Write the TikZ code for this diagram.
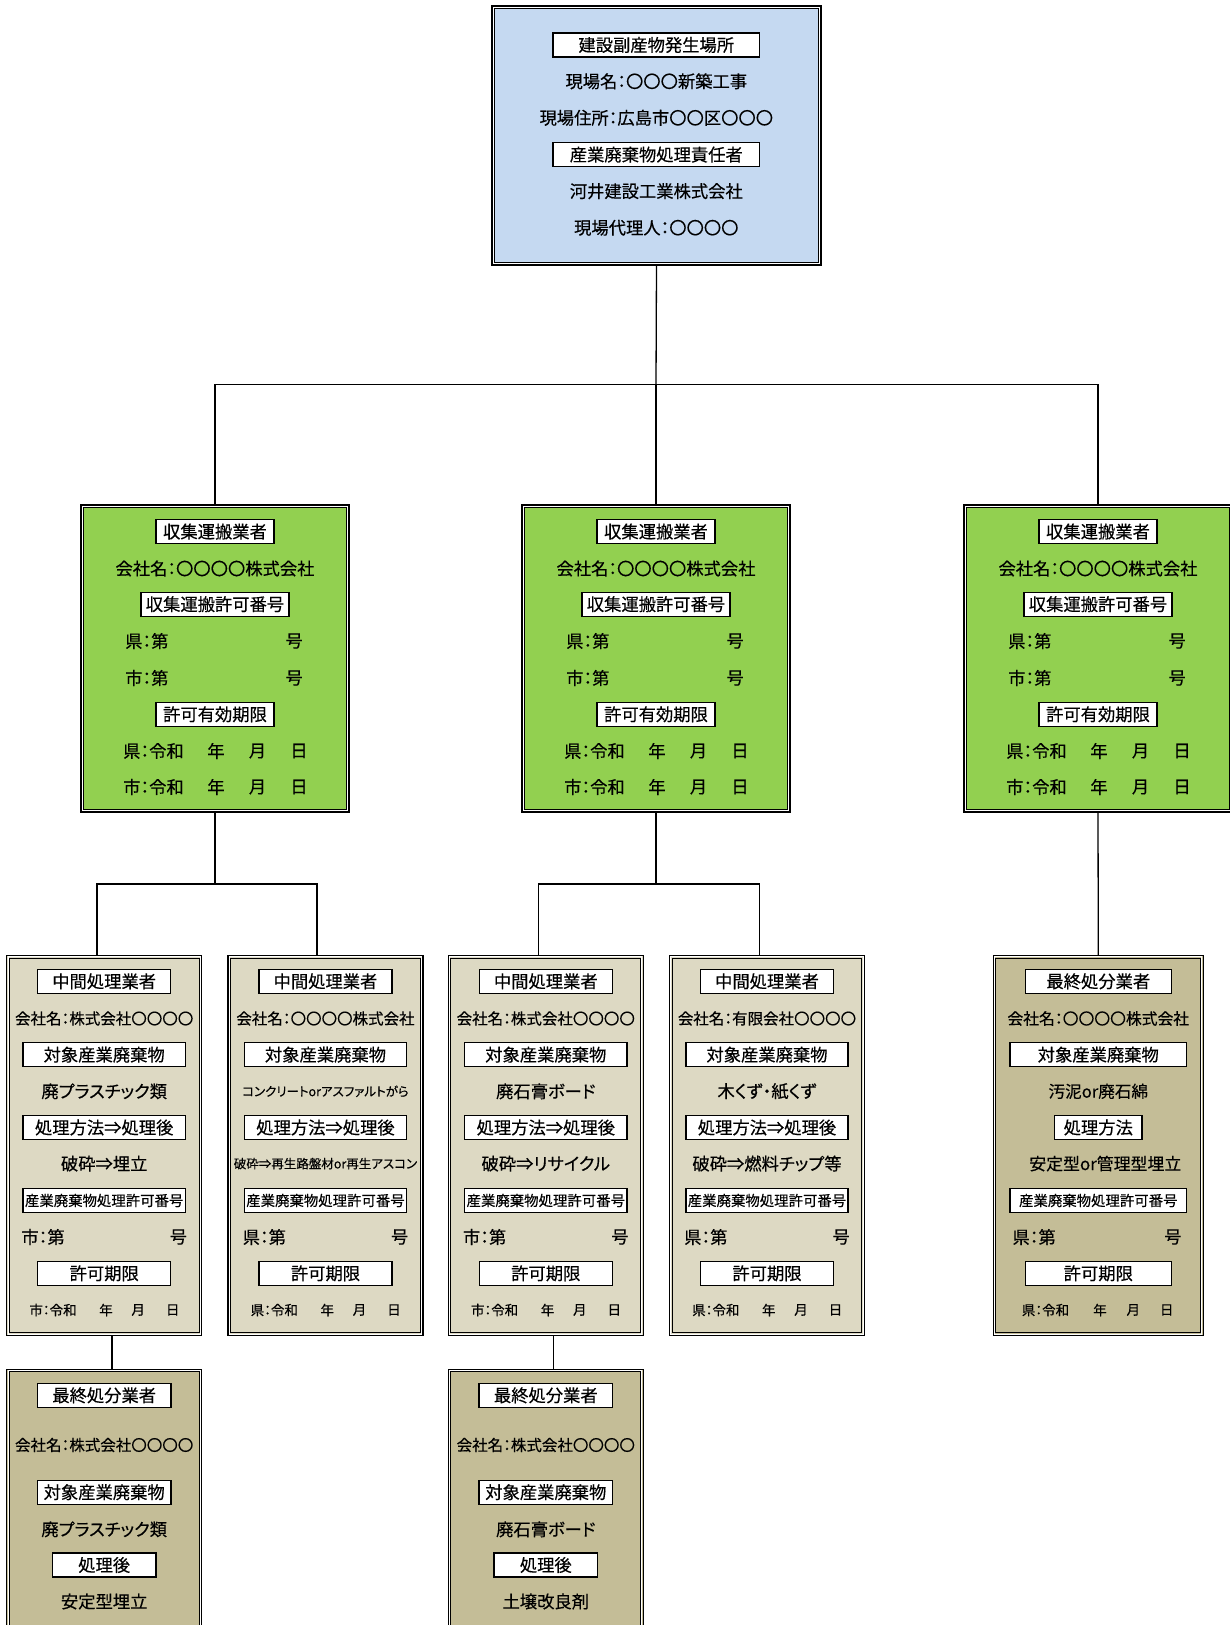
\documentclass[tikz,border=0pt]{standalone}
\usepackage{fontspec}
\setmainfont{Noto Sans CJK JP}[RawFeature=+palt,FakeBold=0.35]
\definecolor{blueC}{HTML}{C5D9F1}
\definecolor{greenC}{HTML}{92D050}
\definecolor{tanL}{HTML}{DDD9C3}
\definecolor{tanD}{HTML}{C4BD97}
\newcommand\fs[1]{\fontsize{#1}{#1}\selectfont}
\tikzset{
 bigbox/.style={rectangle, draw=black, line width=1.1pt, inner sep=0pt, outer sep=0pt},
 lab/.style={rectangle, draw=black, fill=white, line width=1.4pt, minimum height=24pt, inner sep=0pt, font=\fs{17.3}},
 txt/.style={inner sep=0pt, font=\fs{17.3}},
 conn/.style={draw=black, line width=1.3pt},
 innerframe/.style={draw=black, line width=0.9pt},
 gapframe/.style={draw=white, line width=1pt},
}
\newcommand\frameit[1]{%
 \draw[gapframe] ([shift={(1.35pt,-1.35pt)}]#1.north west) rectangle ([shift={(-1.35pt,1.35pt)}]#1.south east);
 \draw[innerframe] ([shift={(2.6pt,-2.6pt)}]#1.north west) rectangle ([shift={(-2.6pt,2.6pt)}]#1.south east);}
\newcommand\greenbox[2]{%
 \node[bigbox,fill=greenC,minimum width=268pt,minimum height=307pt] (#1) at (#2,658.5) {};
 \frameit{#1}
 \node[lab,minimum width=118pt] (#1a) at (#2,531.6) {収集運搬業者};
 \node[txt] (#1b) at (#2,568.5) {会社名：〇〇〇〇株式会社};
 \node[lab,minimum width=148pt] (#1c) at (#2,604.2) {収集運搬許可番号};
 \node[txt,anchor=west] (#1d) at ({#2-90},641) {県：第};
 \node[txt,anchor=east] (#1e) at ({#2+88},641) {号};
 \node[txt,anchor=west] (#1f) at ({#2-90},678) {市：第};
 \node[txt,anchor=east] (#1g) at ({#2+88},678) {号};
 \node[lab,minimum width=118pt] (#1h) at (#2,714.3) {許可有効期限};
 \node[txt,anchor=west] (#1i) at ({#2-92},751) {県：令和};
 \node[txt] (#1j) at ({#2+1},751) {年};
 \node[txt] (#1k) at ({#2+42.5},751) {月};
 \node[txt] (#1l) at ({#2+84},751) {日};
 \node[txt,anchor=west] (#1m) at ({#2-92},787) {市：令和};
 \node[txt] (#1n) at ({#2+1},787) {年};
 \node[txt] (#1o) at ({#2+42.5},787) {月};
 \node[txt] (#1p) at ({#2+84},787) {日};
}
\newcommand\midbox[6]{%
 \node[bigbox,fill=tanL,minimum width=195pt,minimum height=380pt] (#1) at (#2,1145.5) {};
 \frameit{#1}
 \node[lab,minimum width=133pt] (#1a) at (#2,981.3) {中間処理業者};
 \node[txt,font=\fs{15.5}] (#1b) at (#2,1018.5) {#3};
 \node[lab,minimum width=162.3pt] (#1c) at (#2,1054.7) {対象産業廃棄物};
 \node[txt] (#1d) at (#2,1091.3) {#4};
 \node[lab,minimum width=162.3pt] (#1e) at (#2,1127.5) {処理方法⇒処理後};
 \node[txt] (#1f) at (#2,1163.6) {#5};
 \node[lab,minimum width=162.3pt,font=\fs{14.4}] (#1g) at (#2,1200.5) {産業廃棄物処理許可番号};
 \node[txt,anchor=west] (#1h) at ({#2-83},1237) {#6：第};
 \node[txt,anchor=east] (#1i) at ({#2+83},1237) {号};
 \node[lab,minimum width=133pt] (#1j) at (#2,1273.3) {許可期限};
 \node[txt,font=\fs{13.5},anchor=west] (#1k) at ({#2-75},1310) {#6：令和};
 \node[txt,font=\fs{13.5}] (#1l) at ({#2+1.8},1310) {年};
 \node[txt,font=\fs{13.5}] (#1m) at ({#2+34},1310) {月};
 \node[txt,font=\fs{13.5}] (#1n) at ({#2+68.5},1310) {日};
}
\newcommand\finbox[4]{%
 \node[bigbox,fill=tanD,minimum width=195pt,minimum height=291pt] (#1) at (#2,1514.8) {};
 \frameit{#1}
 \node[lab,minimum width=133.4pt] (#1a) at (#2,1395.3) {最終処分業者};
 \node[txt,font=\fs{15.5}] (#1b) at (#2,1445) {会社名：株式会社〇〇〇〇};
 \node[lab,minimum width=133.4pt] (#1c) at (#2,1492.2) {対象産業廃棄物};
 \node[txt] (#1d) at (#2,1529.3) {#3};
 \node[lab,minimum width=103.4pt] (#1e) at (#2,1565) {処理後};
 \node[txt] (#1f) at (#2,1601.5) {#4};
}
\begin{document}
\begin{tikzpicture}[x=1pt,y=-1pt]
\useasboundingbox (0,0) rectangle (1229,1625);
% top box
\node[bigbox,fill=blueC,minimum width=329pt,minimum height=259pt] (top) at (656.5,135.5) {};
\frameit{top}
\node[lab,minimum width=206.6pt] (ta) at (656.3,45) {建設副産物発生場所};
\node[txt] (tb) at (656.3,81.3) {現場名：〇〇〇新築工事};
\node[txt] (tc) at (656.3,117.8) {現場住所：広島市〇〇区〇〇〇};
\node[lab,minimum width=206.6pt] (td) at (656.3,154.6) {産業廃棄物処理責任者};
\node[txt] (te) at (656.3,191.2) {河井建設工業株式会社};
\node[txt] (tf) at (656.3,227.8) {現場代理人：〇〇〇〇};
% collectors
\greenbox{ga}{215}
\greenbox{gb}{656}
\greenbox{gc}{1098}
% intermediates
\midbox{ma}{104.2}{会社名：株式会社〇〇〇〇}{廃プラスチック類}{破砕⇒埋立}{市}
\midbox{mb}{325.5}{会社名：〇〇〇〇株式会社}{\fs{12.5}コンクリートorアスファルトがら}{\fs{12.5}破砕⇒再生路盤材or再生アスコン}{県}
\midbox{mc}{545.8}{会社名：株式会社〇〇〇〇}{廃石膏ボード}{破砕⇒リサイクル}{市}
\midbox{md}{767}{会社名：有限会社〇〇〇〇}{木くず・紙くず}{破砕⇒燃料チップ等}{県}
% final right
\node[bigbox,fill=tanD,minimum width=210pt,minimum height=380pt] (fe) at (1098.3,1145.5) {};
\frameit{fe}
\node[lab,minimum width=146pt] (fea) at (1098.3,981.3) {最終処分業者};
\node[txt,font=\fs{15.8}] (feb) at (1098.3,1018.5) {会社名：〇〇〇〇株式会社};
\node[lab,minimum width=176.7pt] (fec) at (1098.3,1054.7) {対象産業廃棄物};
\node[txt,font=\fs{16.6}] (fed) at (1098.3,1091.3) {汚泥or廃石綿};
\node[lab,minimum width=87.4pt] (fee) at (1098.3,1127.5) {処理方法};
\node[txt,font=\fs{16.9}] (fef) at (1105.3,1163.6) {安定型or管理型埋立};
\node[lab,minimum width=176.7pt,font=\fs{14.4}] (feg) at (1098.3,1200.5) {産業廃棄物処理許可番号};
\node[txt,anchor=west] (feh) at (1012.3,1237) {県：第};
\node[txt,anchor=east] (fei) at (1181.7,1237) {号};
\node[lab,minimum width=146pt] (fej) at (1098.3,1273.3) {許可期限};
\node[txt,font=\fs{13.5},anchor=west] (fek) at (1021.7,1310) {県：令和};
\node[txt,font=\fs{13.5}] (fel) at (1100,1310) {年};
\node[txt,font=\fs{13.5}] (fem) at (1133.3,1310) {月};
\node[txt,font=\fs{13.5}] (fen) at (1166.7,1310) {日};
% bottom finals
\finbox{ff}{104.2}{廃プラスチック類}{安定型埋立}
\finbox{fg}{545.8}{廃石膏ボード}{土壌改良剤}
% connectors
\coordinate (j0) at (656,384.5);
\coordinate (j1) at (215,884);
\coordinate (j2) at (656,884);
\draw[conn] (top.south) -- (j0);
\draw[conn] (ga.north) |- (j0) -| (gc.north);
\draw[conn] (j0) -- (gb.north);
\draw[conn] (ga.south) -- (j1);
\draw[conn] ([xshift=-7.2pt]ma.north) |- (j1) -| ([xshift=-8.5pt]mb.north);
\draw[conn] (gb.south) -- (j2);
\draw[conn] ([xshift=-7.3pt]mc.north) |- (j2) -| ([xshift=-7.5pt]md.north);
\draw[conn] (gc.south) -- (fe.north);
\draw[conn] ([xshift=7.7pt]ma.south) -- ([xshift=7.7pt]ff.north);
\draw[conn] ([xshift=7.6pt]mc.south) -- ([xshift=7.6pt]fg.north);
\end{tikzpicture}
\end{document}
